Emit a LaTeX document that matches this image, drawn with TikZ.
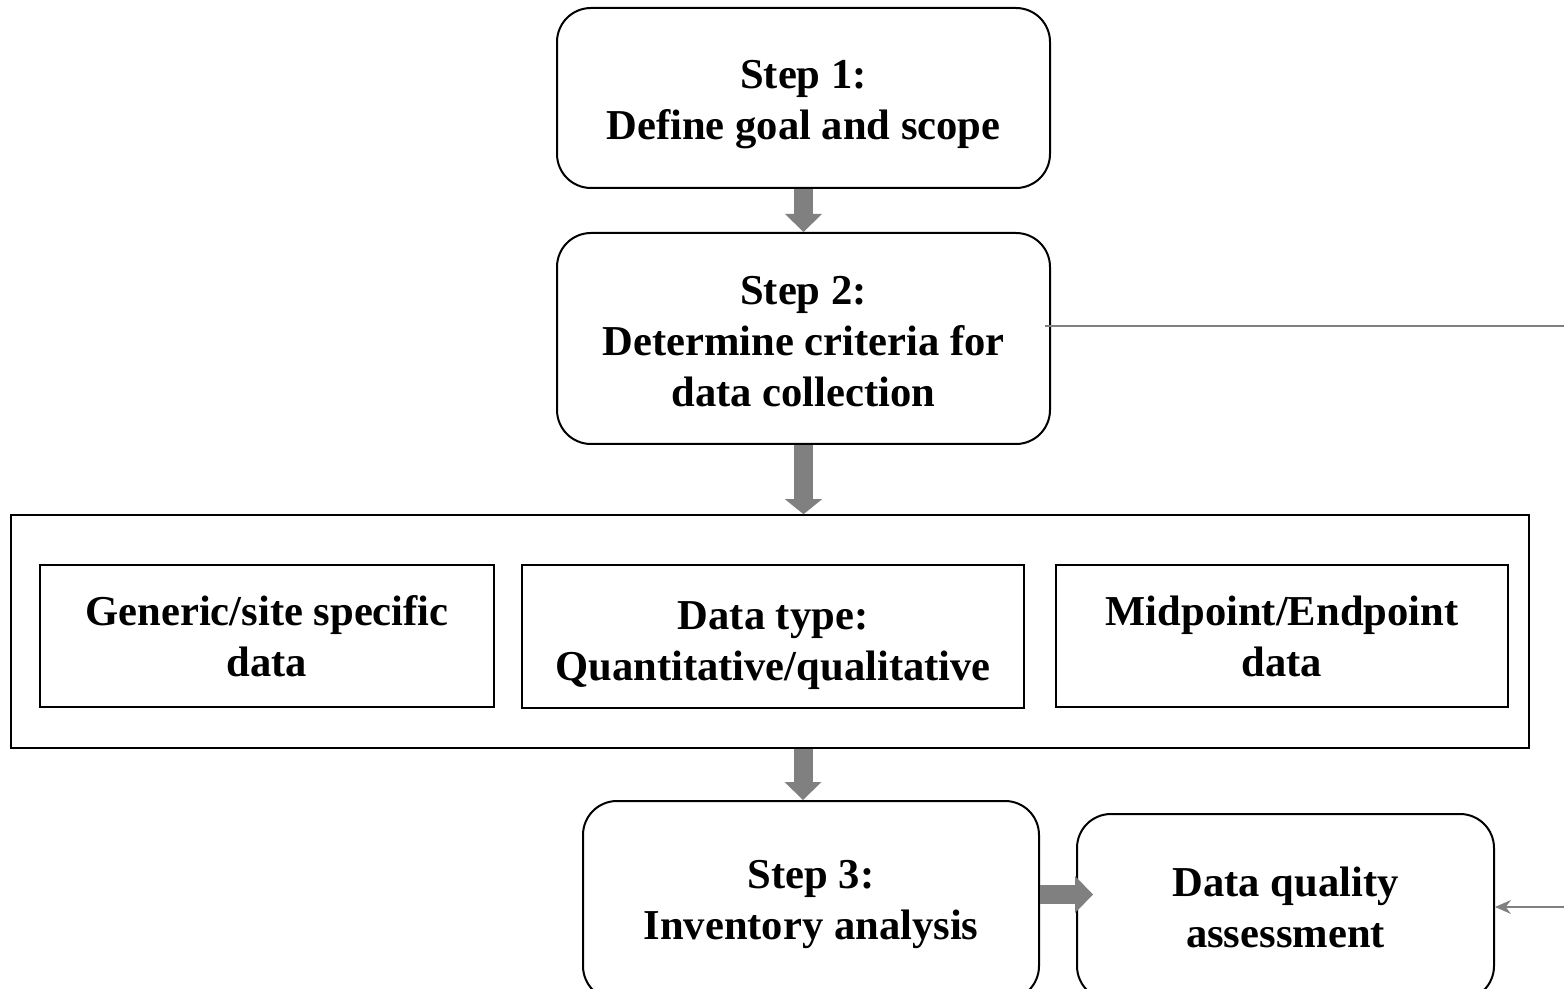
\documentclass[tikz,border=0pt]{standalone}
\usepackage{fontspec}
\setmainfont{Liberation Serif}
\usetikzlibrary{arrows.meta,calc}
\definecolor{agray}{RGB}{128,128,128}
\newcommand\pushdown[2]{\raisebox{0pt}[\dimexpr\height+#1\relax]{#2}}
\begin{document}
\begin{tikzpicture}[x=0.5pt,y=-0.5pt,
  txt/.style={align=center, inner sep=0pt, font=\bfseries\fontsize{21.3}{25.5}\selectfont},
  rbox/.style={txt, draw=black, line width=1pt, rounded corners=17pt},
  sbox/.style={txt, draw=black, line width=0.9pt},
  frame/.style={draw=black, line width=0.75pt, inner sep=0pt},
  blockarrow/.style={draw=agray, line width=9.5pt, -{Triangle[length=#1,width=18.5pt,line width=0pt]}},
  blockarrow/.default=9pt,
  thinline/.style={draw=agray, line width=1pt},
  thinarrow/.style={draw=agray, line width=1pt, -{Stealth[length=8pt,width=7pt,line width=0pt]}}]
\useasboundingbox (0,0) rectangle (1564,989);

\node[rbox, minimum width=246.5pt, minimum height=90pt] (s1) at (803.5,98) {\pushdown{7pt}{Step 1:}\\Define goal and scope};
\node[rbox, minimum width=246.5pt, minimum height=105.5pt] (s2) at (803.5,338.5) {\pushdown{3pt}{Step 2:}\\Determine criteria for\\data collection};
\node[frame, minimum width=759pt, minimum height=116.5pt] (outer) at (770,631.5) {};
\node[sbox, minimum width=227pt, minimum height=71pt] (a) at (267,636) {Generic/site specific\\data};
\node[sbox, minimum width=251pt, minimum height=71.5pt] (b) at (773,636.5) {\pushdown{9pt}{Data type:}\\Quantitative/qualitative};
\node[sbox, minimum width=226pt, minimum height=71pt] (c) at (1282,636) {Midpoint/Endpoint\\data};
\node[rbox, minimum width=228pt, minimum height=99.5pt] (s3) at (811,900.5) {\pushdown{4pt}{Step 3:}\\Inventory analysis};
\node[rbox, minimum width=208.5pt, minimum height=93pt] (dqa) at (1285.5,907) {Data quality\\assessment};

\coordinate (r1) at (1564,326);
\coordinate (r2) at (1564,907);
\coordinate (v3) at ($(s3.north)+(-8,0)$);
\coordinate (h1) at ($(s3.east)+(0,-6)$);
\coordinate (h2) at ($(h1 -| dqa.west)+(17,0)$);

\draw[blockarrow] (s1.south) -- (s2.north);
\draw[blockarrow=7.5pt] (s2.south) -- (s2.south |- outer.north);
\draw[blockarrow] (v3 |- outer.south) -- (v3);
\draw[blockarrow] (h1) -- (h2);

\draw[thinline] ($(s2.east)+(-6,-12.5)$) -- (r1);
\draw[thinarrow] (r2) -- (dqa.east);
\end{tikzpicture}
\end{document}
